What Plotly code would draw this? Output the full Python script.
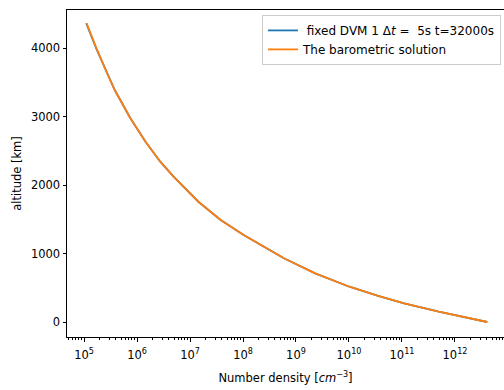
import plotly.graph_objects as go

# Data
altitude_km = [0, 54, 150, 273, 380, 515, 711, 930, 1149, 1270, 1489, 1756, 2121, 2340,
               2632, 2974, 3387, 3606, 3996, 4361]
density_dvm = [4.07e12, 1.86e12, 4.94e11, 1.10e11, 3.55e10, 1.02e10, 2.31e9, 5.92e8, 1.85e8,
               1.03e8, 3.80e7, 1.44e7, 4.90e6, 2.75e6, 1.45e6, 7.50e5, 3.80e5, 2.82e5,
               1.70e5, 1.10e5]
density_baro = [4.07e12, 1.86e12, 4.94e11, 1.10e11, 3.55e10, 1.02e10, 2.31e9, 5.92e8, 1.85e8,
                1.03e8, 3.80e7, 1.44e7, 4.90e6, 2.75e6, 1.45e6, 7.50e5, 3.80e5, 2.82e5,
                1.72e5, 1.12e5]

x_tickvals = [1e5, 1e6, 1e7, 1e8, 1e9, 1e10, 1e11, 1e12]
x_ticktext = ["10<sup>5</sup>", "10<sup>6</sup>", "10<sup>7</sup>", "10<sup>8</sup>",
              "10<sup>9</sup>", "10<sup>10</sup>", "10<sup>11</sup>", "10<sup>12</sup>"]
y_tickvals = [0, 1000, 2000, 3000, 4000]

NB = "\u00a0"
fig = go.Figure()
fig.add_trace(go.Scatter(x=density_dvm, y=altitude_km, mode="lines",
                         name=NB + "fixed DVM 1 Δ<i>t</i> =" + NB + NB + "5s t=32000s",
                         line=dict(color="#1f77b4", width=1.8)))
fig.add_trace(go.Scatter(x=density_baro, y=altitude_km, mode="lines",
                         name="The barometric solution",
                         line=dict(color="#ff7f0e", width=1.8)))

font = dict(family="DejaVu Sans", size=11.5, color="black")
fig.update_layout(
    width=504, height=390,
    margin=dict(l=67, r=0, t=10, b=53),
    paper_bgcolor="white", plot_bgcolor="white",
    font=font,
    showlegend=True,
    legend=dict(x=0.993, y=0.985, xanchor="right", yanchor="top",
                bgcolor="white", bordercolor="#cccccc", borderwidth=1,
                font=dict(family="DejaVu Sans", size=12, color="black"),
                tracegroupgap=0),
    xaxis=dict(type="log", range=[4.679, 12.925],
               tickvals=x_tickvals, ticktext=x_ticktext,
               ticks="outside", ticklen=3.5, tickcolor="black",
               ticklabelstandoff=4,
               showgrid=False, zeroline=False,
               showline=True, linecolor="black", linewidth=1, mirror=True,
               minor=dict(ticks="outside", ticklen=2, tickcolor="black", dtick="D1", showgrid=False),
               title=dict(text="Number density [<i>cm</i><sup>−3</sup>]", font=font, standoff=12)),
    yaxis=dict(range=[-219, 4555], tickvals=y_tickvals,
               ticks="outside", ticklen=3.5, tickcolor="black",
               showgrid=False, zeroline=False,
               showline=True, linecolor="black", linewidth=1, mirror=False,
               title=dict(text="altitude [km]", font=font, standoff=6)),
)
fig.write_html("out.html")
